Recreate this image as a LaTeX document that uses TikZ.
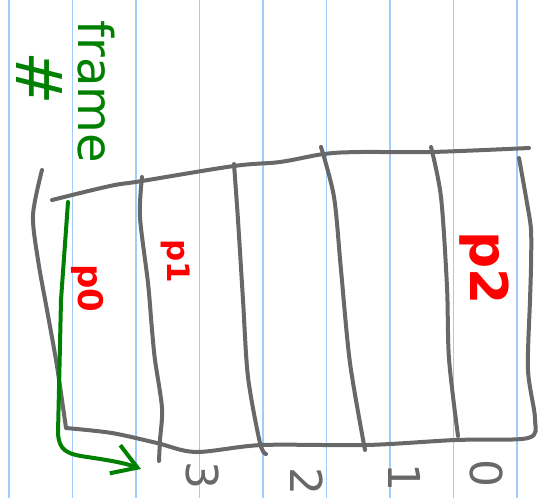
\documentclass[tikz,border=0pt]{standalone}
\usepackage{fontspec}
\setsansfont{DejaVu Sans}
\definecolor{pengrey}{RGB}{104,104,104}
\definecolor{pengreen}{RGB}{0,128,0}
\definecolor{penred}{RGB}{255,0,0}
\definecolor{ruleblue}{RGB}{160,204,250}
\usepackage{tikz}
\usetikzlibrary{arrows.meta}

\begin{document}
\begin{tikzpicture}[
            x=1pt, y=-1pt,
            every node/.style={font=\sffamily, inner sep=0pt},
            ruling/.style={draw=ruleblue, line width=1.6pt},
            pen/.style={draw=pengrey, line width=4pt, line cap=round, line join=round},
            greenpen/.style={draw=pengreen, line width=4pt, line cap=round, line join=round},
            pagelabel/.style={text=penred, rotate=-90},
            note/.style={text=pengreen, rotate=-90},
            framenum/.style={text=pengrey, rotate=-90, font=\sffamily\fontsize{44}{44}\selectfont},
            flow/.style={greenpen, -{Straight Barb[length=24pt,width=30pt,line width=4pt]}}
        ]

        % page and ruled lines
        \useasboundingbox (0,0) rectangle (548,498);
        \fill[white] (0,0) rectangle (548,498);
        \foreach \k in {0,...,8}
            \draw[ruling] ({9+63.5*\k},0) -- ({9+63.5*\k},498);

        % frame table outline
        \draw[pen] plot[smooth, tension=0.6] coordinates {(52,200) (110,186) (142,181) (234,166) (280,162) (324,154) (361,152) (431,152) (529,148)};
        \draw[pen] plot[smooth, tension=0.5] coordinates {(42,170) (33,215) (38,260) (47,310) (56,360) (62,400) (66,428)}
            plot[smooth, tension=0.5] coordinates {(66,428) (112,433) (157,443) (196,452) (262,445) (367,445) (455,440) (528,438) (535,419) (528,370) (530,300) (531,267) (531,230) (527,203) (519,158)};

        % dividers
        \draw[pen] plot[smooth, tension=0.5] coordinates {(142,177) (140,217) (148,283) (152,330) (155,360) (162,408) (160,440) (159,461)};
        \draw[pen] plot[smooth, tension=0.5] coordinates {(234,164) (238,220) (243,300) (248,377) (260,443) (266,454)};
        \draw[pen] plot[smooth, tension=0.5] coordinates {(321,147) (334,197) (341,270) (350,363) (365,450)};
        \draw[pen] plot[smooth, tension=0.5] coordinates {(431,147) (441,197) (447,287) (449,359) (458,436)};

        % labels
        \node[note, font=\sffamily\fontsize{64}{64}\selectfont] (hash) at (39,78) {\#};
        \node[note, font=\sffamily\fontsize{48}{48}\selectfont] (frame) at (96,92) {frame};
        \node[pagelabel, font=\sffamily\bfseries\fontsize{34}{34}\selectfont] (p0) at (88,288) {p0};
        \node[pagelabel, font=\sffamily\bfseries\fontsize{31}{31}\selectfont] (p1) at (176,261) {p1};
        \node[pagelabel, font=\sffamily\bfseries\fontsize{52}{52}\selectfont] (p2) at (484,268) {p2};
        \node[framenum] (n3) at (203,475) {3};
        \node[framenum] (n2) at (307,481) {2};
        \node[framenum] (n1) at (405,477) {1};
        \node[framenum] (n0) at (487,473) {0};

        % numbering direction
        \coordinate (fstart) at (68,202);
        \coordinate (fend) at (141,469);
        \draw[flow] (fstart) -- (61,300) -- (58,433) .. controls (59,450) and (66,454) .. (87,457) .. controls (108,460) and (125,463) .. (fend);

\end{tikzpicture}
\end{document}
